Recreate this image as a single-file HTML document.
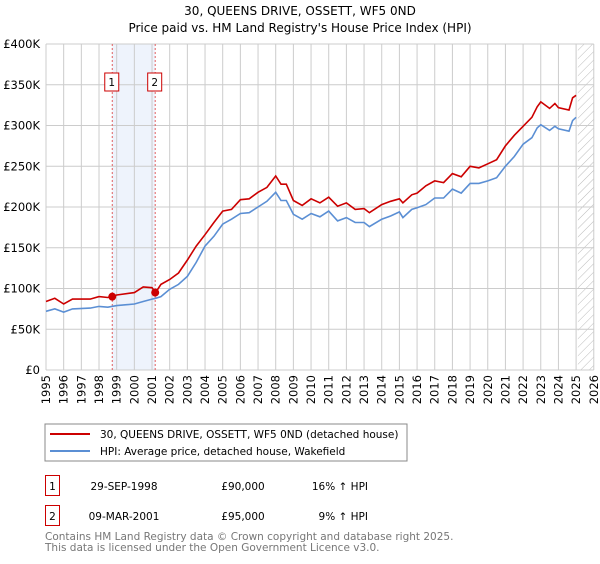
<!DOCTYPE html>
<html><head><meta charset="utf-8"><style>
body{margin:0;background:#fff;font-family:"DejaVu Sans","Liberation Sans",sans-serif;}
svg text{font-family:"DejaVu Sans","Liberation Sans",sans-serif;}
</style></head><body>
<svg id="c" width="600" height="560" xmlns="http://www.w3.org/2000/svg">
<text x="300" y="15" text-anchor="middle" font-size="12">30, QUEENS DRIVE, OSSETT, WF5 0ND</text>
<text x="300" y="32" text-anchor="middle" font-size="12">Price paid vs. HM Land Registry's House Price Index (HPI)</text>
<g id="grid"></g>
<g id="marks"></g>
<rect x="45" y="424" width="362" height="37" fill="#fff" stroke="#888"/>
<line x1="50" y1="434" x2="90" y2="434" stroke="#cc0000" stroke-width="2"/>
<text x="100" y="438" font-size="10.5">30, QUEENS DRIVE, OSSETT, WF5 0ND (detached house)</text>
<line x1="50" y1="451" x2="90" y2="451" stroke="#5b8fd4" stroke-width="2"/>
<text x="100" y="455" font-size="10.5">HPI: Average price, detached house, Wakefield</text>
<rect x="45.5" y="475.5" width="14" height="20" fill="none" stroke="#cc0000"/>
<text x="52.5" y="490" font-size="10.5" text-anchor="middle">1</text>
<text x="124" y="490" font-size="10.5" text-anchor="middle">29-SEP-1998</text>
<text x="243" y="490" font-size="10.5" text-anchor="middle">£90,000</text>
<text x="368" y="490" font-size="10.5" text-anchor="end">16% ↑ HPI</text>
<rect x="45.5" y="505.5" width="14" height="20" fill="none" stroke="#cc0000"/>
<text x="52.5" y="520" font-size="10.5" text-anchor="middle">2</text>
<text x="124" y="520" font-size="10.5" text-anchor="middle">09-MAR-2001</text>
<text x="243" y="520" font-size="10.5" text-anchor="middle">£95,000</text>
<text x="368" y="520" font-size="10.5" text-anchor="end">9% ↑ HPI</text>
<text x="45" y="540" font-size="10.5" fill="#777">Contains HM Land Registry data © Crown copyright and database right 2025.</text>
<text x="45" y="551" font-size="10.5" fill="#777">This data is licensed under the Open Government Licence v3.0.</text>
</svg>
<script>
const years=[1995,1995.5,1996,1996.5,1997.5,1998,1998.5,1999,2000,2000.5,2001,2001.2,2001.5,2002,2002.5,2003,2003.5,2004,2004.5,2005,2005.5,2006,2006.5,2007,2007.5,2008,2008.3,2008.6,2009,2009.5,2010,2010.5,2011,2011.5,2012,2012.5,2013,2013.3,2014,2014.5,2015,2015.2,2015.7,2016,2016.5,2017,2017.5,2018,2018.5,2019,2019.5,2020,2020.5,2021,2021.5,2022,2022.5,2022.8,2023,2023.5,2023.8,2024,2024.6,2024.8,2025];
const hpi=[72,75,71,75,76,78,77,79,81,84,87,88,90,99,105,115,132,152,164,179,185,192,193,200,207,218,208,208,191,185,192,188,195,183,187,181,181,176,185,189,194,187,197,199,203,211,211,222,217,229,229,232,236,250,262,277,285,297,301,294,299,296,293,306,310];
const prop=[84,88,81,87,87,90,89,92,95,102,101,95,105,111,119,135,152,166,181,195,197,209,210,218,224,238,228,228,208,202,210,205,212,201,205,197,198,193,203,207,210,205,215,217,226,232,230,241,237,250,248,253,258,275,288,299,310,323,329,321,327,322,319,334,337];
const saleDates=[1998.75,2001.18];
const salePrices=[90,95];
const saleLabels=["1","2"];
const yTicks=[0,50,100,150,200,250,300,350,400];
const yTickLabels=["£0","£50K","£100K","£150K","£200K","£250K","£300K","£350K","£400K"];
const xStart=1995,xEnd=2026;
const X=t=>46+(t-1995)*17.67;
const Y=v=>370-v*326/400;
const NS="http://www.w3.org/2000/svg";
function mk(tag,attrs,parent,txt){const e=document.createElementNS(NS,tag);for(const k in attrs)e.setAttribute(k,attrs[k]);if(txt!==undefined)e.textContent=txt;parent.appendChild(e);return e;}
const g=document.getElementById('grid'),m=document.getElementById('marks');
let band=mk('rect',{x:X(saleDates[0]),y:Y(400),width:X(saleDates[1])-X(saleDates[0]),height:Y(0)-Y(400),fill:'#eef3fc'},g);


const defs=mk('defs',{},g);
const pat=mk('pattern',{id:'h',width:6,height:6,patternUnits:'userSpaceOnUse',patternTransform:'rotate(45)'},defs);
mk('line',{x1:0,y1:0,x2:0,y2:6,stroke:'#bbb','stroke-width':1},pat);
let hatch=mk('rect',{x:X(2025.1),y:Y(400),width:X(xEnd)-X(2025.1),height:Y(0)-Y(400),fill:'url(#h)'},g);


for(let i=0;i<yTicks.length;i++){
 let l=mk('line',{x1:X(xStart),x2:X(xEnd),y1:Y(yTicks[i]),y2:Y(yTicks[i]),stroke:'#ccc'},g);
 
 
 let t=mk('text',{x:40,y:Y(yTicks[i])+4,'text-anchor':'end','font-size':11.5},g,yTickLabels[i]);
 
 
}
for(let yr=xStart;yr<=xEnd;yr++){
 let l=mk('line',{x1:X(yr),x2:X(yr),y1:Y(400),y2:Y(0),stroke:'#ccc'},g);
 
 
 const tx=X(yr)+4,ty=375;
 let t=mk('text',{x:tx,y:ty,'text-anchor':'end','font-size':11.5,transform:'rotate(-90 '+tx+' '+ty+')'},g,String(yr));
 
 
}
for(let i=0;i<saleDates.length;i++){
 let l=mk('line',{x1:X(saleDates[i]),x2:X(saleDates[i]),y1:Y(400),y2:Y(0),stroke:'#e06060','stroke-dasharray':'2,2'},g);
 
 
}
const path=(arr,col,name)=>{let d=years.map((t,i)=>(i?'L':'M')+X(t).toFixed(1)+','+Y(arr[i]).toFixed(1)).join('');let p=mk('path',{d:d,fill:'none',stroke:col,'stroke-width':1.6},m);};
path(hpi,'#5b8fd4','hpi-line');
path(prop,'#cc0000','property-line');
for(let i=0;i<saleDates.length;i++){
 let c=mk('circle',{cx:X(saleDates[i]),cy:Y(salePrices[i]),r:4,fill:'#cc0000'},m);
 
 
 let r=mk('rect',{x:X(saleDates[i])-7.5,y:73,width:14,height:18,fill:'#fff',stroke:'#cc0000'},m);
 
 
 let t=mk('text',{x:X(saleDates[i])-0.5,y:86,'text-anchor':'middle','font-size':10.5},m,saleLabels[i]);
 
 
}
</script>
</body></html>
